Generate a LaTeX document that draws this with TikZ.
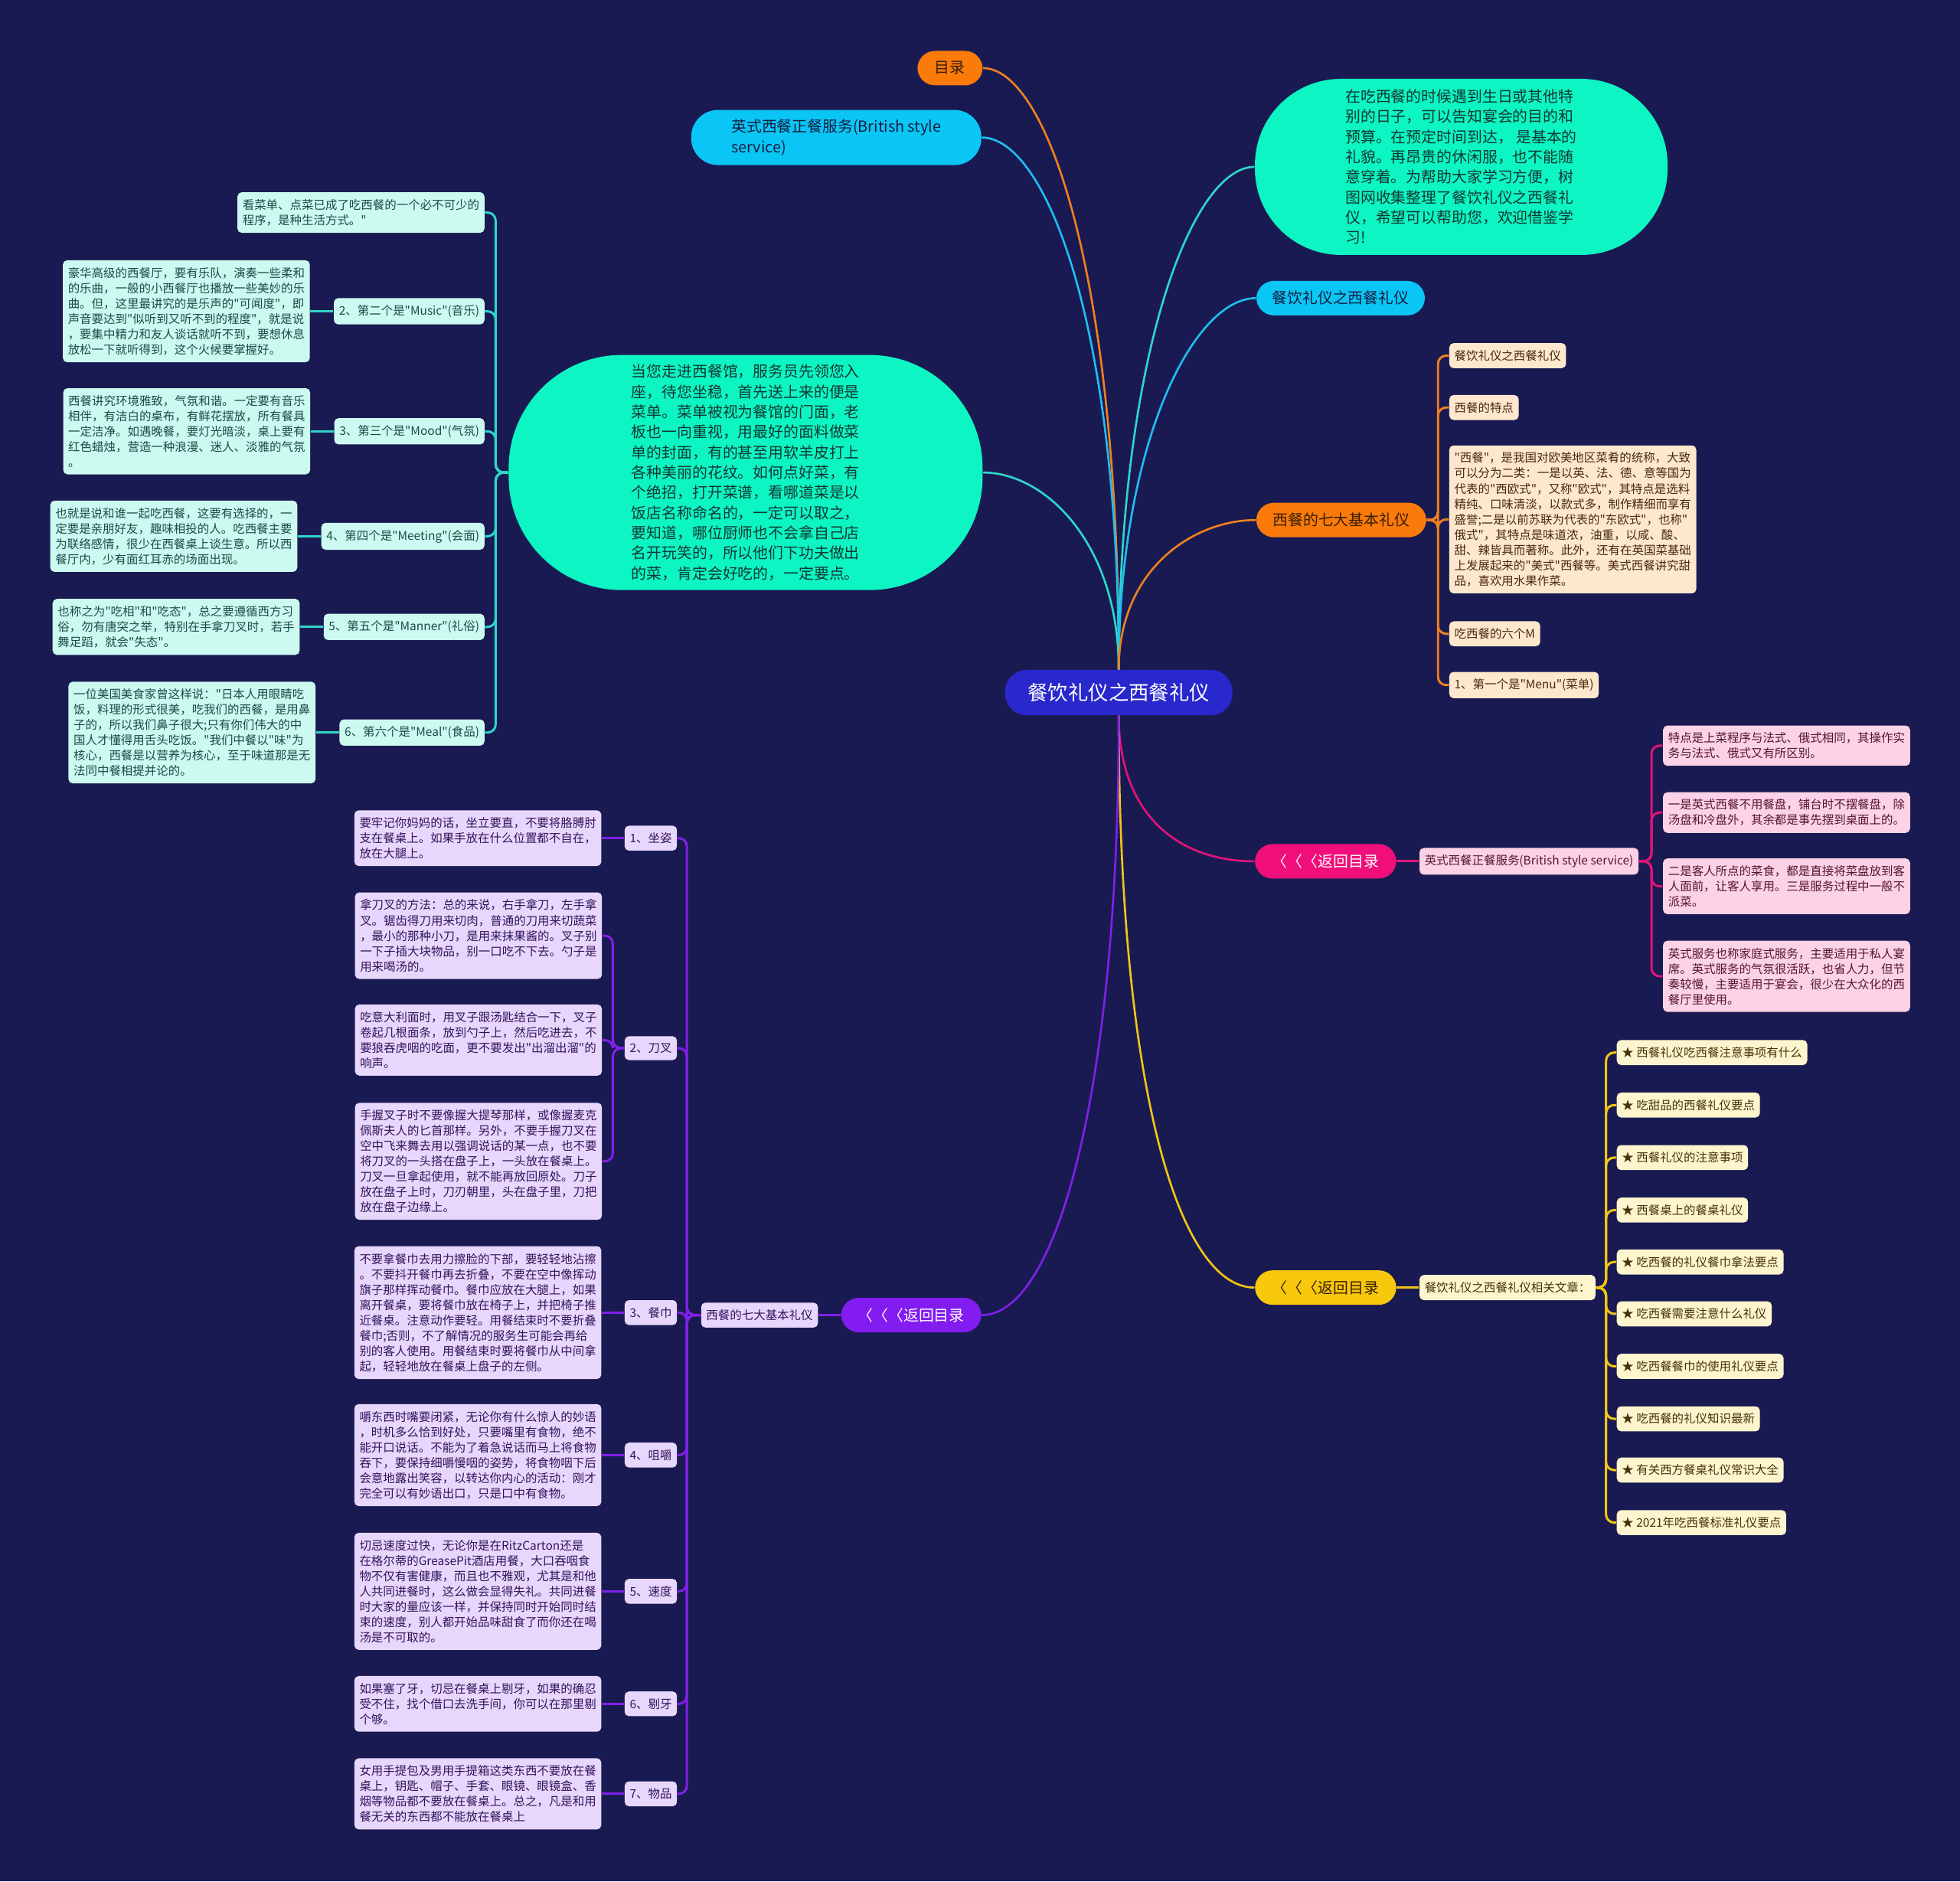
\documentclass[tikz,border=0pt]{standalone}
\usepackage{fontspec}
\setmainfont{Noto Sans CJK SC}
\newfontfamily\cjkfont{Noto Sans CJK SC}
\usetikzlibrary{positioning}
\definecolor{bgnavy}{RGB}{26,26,82}
\definecolor{rootblue}{RGB}{40,40,205}
\definecolor{brorange}{RGB}{250,122,10}
\definecolor{brsky}{RGB}{10,198,245}
\definecolor{brmint}{RGB}{12,245,195}
\definecolor{brpink}{RGB}{240,15,122}
\definecolor{bryellow}{RGB}{248,200,12}
\definecolor{brpurple}{RGB}{130,28,240}
\definecolor{lnorange}{RGB}{240,128,30}
\definecolor{lnsky}{RGB}{30,190,240}
\definecolor{lnteal}{RGB}{45,215,200}
\definecolor{lnpink}{RGB}{225,20,122}
\definecolor{lnyellow}{RGB}{240,198,20}
\definecolor{lnpurple}{RGB}{128,32,232}
\definecolor{lfcyan}{RGB}{205,250,240}
\definecolor{lfpeach}{RGB}{253,232,206}
\definecolor{lfpink}{RGB}{252,210,230}
\definecolor{lfcream}{RGB}{253,245,205}
\definecolor{lflav}{RGB}{232,215,253}
\definecolor{txcyan}{RGB}{25,75,75}
\definecolor{txpeach}{RGB}{75,40,10}
\definecolor{txpink}{RGB}{85,20,50}
\definecolor{txcream}{RGB}{70,50,10}
\definecolor{txlav}{RGB}{50,20,90}
\definecolor{txmint}{RGB}{20,55,50}
\definecolor{txdark}{RGB}{55,30,5}
\definecolor{txnavy}{RGB}{20,30,65}

\begin{document}
\begin{tikzpicture}[
    x=0.016327cm, y=-0.016327cm,
    small/.style={font=\cjkfont\fontsize{4.4pt}{5.7pt}\selectfont},
    mid/.style={font=\cjkfont\fontsize{5.65pt}{7.5pt}\selectfont},
    pill/.style={mid, rectangle, rounded corners=6.5pt, minimum height=0.45cm, inner sep=0pt},
    bubble/.style={mid, rectangle, fill=brmint, text=txmint, align=left, inner sep=0pt},
    leaf/.style={small, rectangle, rounded corners=1.6pt, inner xsep=1.9pt, inner ysep=2.6pt, align=left},
    cyleaf/.style={leaf, fill=lfcyan, text=txcyan},
    orleaf/.style={leaf, fill=lfpeach, text=txpeach},
    pkleaf/.style={leaf, fill=lfpink, text=txpink},
    ylleaf/.style={leaf, fill=lfcream, text=txcream},
    puleaf/.style={leaf, fill=lflav, text=txlav},
    link/.style={line width=0.75pt},
    twig/.style={line width=0.85pt, rounded corners=3pt}
    ]
    \fill[bgnavy] (0,0) rectangle (1568,1505);

    \node[rectangle, rounded corners=8pt, fill=rootblue, text=white, font=\cjkfont\fontsize{7.5pt}{9pt}\selectfont, minimum width=2.97cm, minimum height=0.59cm] (root) at (895,554) {餐饮礼仪之西餐礼仪};

    \node[pill, fill=brorange, text=txdark, minimum width=0.85cm] (mulu) at (760,54.5) {目录};
    \node[pill, fill=brsky, text=txnavy, minimum width=3.79cm, minimum height=0.72cm, rounded corners=10pt, align=left] (brit) at (669,110) {英式西餐正餐服务(British style\\service)};
    \node[bubble, minimum width=5.39cm, minimum height=2.30cm, rounded corners=32pt] (intro) at (1169,133.5) {在吃西餐的时候遇到生日或其他特\\别的日子，可以告知宴会的目的和\\预算。在预定时间到达，\ 是基本的\\礼貌。再昂贵的休闲服，也不能随\\意穿着。为帮助大家学习方便，树\\图网收集整理了餐饮礼仪之西餐礼\\仪，希望可以帮助您，欢迎借鉴学\\习!};
    \node[pill, fill=brsky, text=txnavy, minimum width=2.2cm] (canyin) at (1072.5,238.5) {餐饮礼仪之西餐礼仪};
    \node[bubble, minimum width=6.19cm, minimum height=3.07cm, rounded corners=42pt] (menu) at (596.5,378) {当您走进西餐馆，服务员先领您入\\座，待您坐稳，首先送上来的便是\\菜单。菜单被视为餐馆的门面，老\\板也一向重视，用最好的面料做菜\\单的封面，有的甚至用软羊皮打上\\各种美丽的花纹。如何点好菜，有\\个绝招，打开菜谱，看哪道菜是以\\饭店名称命名的，一定可以取之，\\要知道，哪位厨师也不会拿自己店\\名开玩笑的，所以他们下功夫做出\\的菜，肯定会好吃的，一定要点。};
    \node[pill, fill=brorange, text=txdark, minimum width=2.22cm] (qida) at (1073,416) {西餐的七大基本礼仪};
    \node[pill, fill=brpink, text=white, minimum width=1.845cm] (pkback) at (1060.5,689) {〈〈〈返回目录};
    \node[pill, fill=bryellow, text=txdark, minimum width=1.845cm] (ylback) at (1060.5,1030) {〈〈〈返回目录};
    \node[pill, fill=brpurple, text=white, minimum width=1.83cm] (puback) at (729,1052) {〈〈〈返回目录};

    \draw[link, lnorange] (mulu.east) .. controls +(50,0) and +(0,-320) .. (root.north);
    \draw[link, lnsky] (brit.east) .. controls +(50,0) and +(0,-280) .. (root.north);
    \draw[link, lnteal] (root.north) .. controls +(0,-250) and +(-50,0) .. (intro.west);
    \draw[link, lnsky] (root.north) .. controls +(0,-180) and +(-50,0) .. (canyin.west);
    \draw[link, lnteal] (menu.east) .. controls +(50,0) and +(0,-100) .. (root.north);
    \draw[link, lnorange] (root.north) .. controls +(0,-80) and +(-50,0) .. (qida.west);
    \draw[link, lnpink] (root.south) .. controls +(0,80) and +(-60,0) .. (pkback.west);
    \draw[link, lnyellow] (root.south) .. controls +(0,300) and +(-60,0) .. (ylback.west);
    \draw[link, lnpurple] (root.south) .. controls +(0,300) and +(60,0) .. (puback.east);

    \node[orleaf, anchor=west] (o1) at (1159,284.5) {餐饮礼仪之西餐礼仪};
    \node[orleaf, anchor=west] (o2) at (1159,326) {西餐的特点};
    \node[orleaf, anchor=west] (o3) at (1159,415.5) {"西餐"，是我国对欧美地区菜肴的统称，大致\\可以分为二类：一是以英、法、德、意等国为\\代表的"西欧式"，又称"欧式"，其特点是选料\\精纯、口味清淡，以款式多，制作精细而享有\\盛誉;二是以前苏联为代表的"东欧式"，也称"\\俄式"，其特点是味道浓，油重，以咸、酸、\\甜、辣皆具而著称。此外，还有在英国菜基础\\上发展起来的"美式"西餐等。美式西餐讲究甜\\品，喜欢用水果作菜。};
    \node[orleaf, anchor=west] (o4) at (1159,507) {吃西餐的六个M};
    \node[orleaf, anchor=west] (o5) at (1159,548) {1、第一个是"Menu"(菜单)};
    \draw[twig, lnorange] (qida.east) -- ++(9,0) |- (o1.west);
    \draw[twig, lnorange] (qida.east) -- ++(9,0) |- (o2.west);
    \draw[twig, lnorange] (qida.east) -- ++(9,0) |- (o3.west);
    \draw[twig, lnorange] (qida.east) -- ++(9,0) |- (o4.west);
    \draw[twig, lnorange] (qida.east) -- ++(9,0) |- (o5.west);

    \node[cyleaf, anchor=east] (c0) at (388,170) {看菜单、点菜已成了吃西餐的一个必不可少的\\程序，是种生活方式。"};
    \node[cyleaf, anchor=east] (c2) at (388,249) {2、第二个是"Music"(音乐)};
    \node[cyleaf, left=0.3cm of c2] (c2txt) {豪华高级的西餐厅，要有乐队，演奏一些柔和\\的乐曲，一般的小西餐厅也播放一些美妙的乐\\曲。但，这里最讲究的是乐声的"可闻度"，即\\声音要达到"似听到又听不到的程度"，就是说\\，要集中精力和友人谈话就听不到，要想休息\\放松一下就听得到，这个火候要掌握好。};
    \node[cyleaf, anchor=east] (c3) at (388,345) {3、第三个是"Mood"(气氛)};
    \node[cyleaf, left=0.3cm of c3] (c3txt) {西餐讲究环境雅致，气氛和谐。一定要有音乐\\相伴，有洁白的桌布，有鲜花摆放，所有餐具\\一定洁净。如遇晚餐，要灯光暗淡，桌上要有\\红色蜡烛，营造一种浪漫、迷人、淡雅的气氛\\。};
    \node[cyleaf, anchor=east] (c4) at (388,429) {4、第四个是"Meeting"(会面)};
    \node[cyleaf, left=0.3cm of c4] (c4txt) {也就是说和谁一起吃西餐，这要有选择的，一\\定要是亲朋好友，趣味相投的人。吃西餐主要\\为联络感情，很少在西餐桌上谈生意。所以西\\餐厅内，少有面红耳赤的场面出现。};
    \node[cyleaf, anchor=east] (c5) at (388,501.5) {5、第五个是"Manner"(礼俗)};
    \node[cyleaf, left=0.3cm of c5] (c5txt) {也称之为"吃相"和"吃态"，总之要遵循西方习\\俗，勿有唐突之举，特别在手拿刀叉时，若手\\舞足蹈，就会"失态"。};
    \node[cyleaf, anchor=east] (c6) at (388,586) {6、第六个是"Meal"(食品)};
    \node[cyleaf, left=0.3cm of c6] (c6txt) {一位美国美食家曾这样说："日本人用眼睛吃\\饭，料理的形式很美，吃我们的西餐，是用鼻\\子的，所以我们鼻子很大;只有你们伟大的中\\国人才懂得用舌头吃饭。"我们中餐以"味"为\\核心，西餐是以营养为核心，至于味道那是无\\法同中餐相提并论的。};
    \draw[twig, lnteal] (menu.west) -- ++(-10,0) |- (c0.east);
    \draw[twig, lnteal] (menu.west) -- ++(-10,0) |- (c2.east);
    \draw[twig, lnteal] (menu.west) -- ++(-10,0) |- (c3.east);
    \draw[twig, lnteal] (menu.west) -- ++(-10,0) |- (c4.east);
    \draw[twig, lnteal] (menu.west) -- ++(-10,0) |- (c5.east);
    \draw[twig, lnteal] (menu.west) -- ++(-10,0) |- (c6.east);
    \draw[twig, lnteal] (c2.west) -- (c2txt.east);
    \draw[twig, lnteal] (c3.west) -- (c3txt.east);
    \draw[twig, lnteal] (c4.west) -- (c4txt.east);
    \draw[twig, lnteal] (c5.west) -- (c5txt.east);
    \draw[twig, lnteal] (c6.west) -- (c6txt.east);

    \node[pkleaf, right=0.29cm of pkback] (pkhead) {英式西餐正餐服务(British style service)};
    \node[pkleaf, anchor=west] (k1) at (1330,596.5) {特点是上菜程序与法式、俄式相同，其操作实\\务与法式、俄式又有所区别。};
    \node[pkleaf, anchor=west] (k2) at (1330,650) {一是英式西餐不用餐盘，铺台时不摆餐盘，除\\汤盘和冷盘外，其余都是事先摆到桌面上的。};
    \node[pkleaf, anchor=west] (k3) at (1330,709) {二是客人所点的菜食，都是直接将菜盘放到客\\人面前，让客人享用。三是服务过程中一般不\\派菜。};
    \node[pkleaf, anchor=west] (k4) at (1330,781) {英式服务也称家庭式服务，主要适用于私人宴\\席。英式服务的气氛很活跃，也省人力，但节\\奏较慢，主要适用于宴会，很少在大众化的西\\餐厅里使用。};
    \draw[twig, lnpink] (pkback.east) -- (pkhead.west);
    \draw[twig, lnpink] (pkhead.east) -- ++(10,0) |- (k1.west);
    \draw[twig, lnpink] (pkhead.east) -- ++(10,0) |- (k2.west);
    \draw[twig, lnpink] (pkhead.east) -- ++(10,0) |- (k3.west);
    \draw[twig, lnpink] (pkhead.east) -- ++(10,0) |- (k4.west);

    \node[ylleaf, right=0.29cm of ylback] (ylhead) {餐饮礼仪之西餐礼仪相关文章：};
    \node[ylleaf, anchor=west] (y1) at (1293,842) {★ 西餐礼仪吃西餐注意事项有什么};
    \node[ylleaf, anchor=west] (y2) at (1293,884) {★ 吃甜品的西餐礼仪要点};
    \node[ylleaf, anchor=west] (y3) at (1293,926) {★ 西餐礼仪的注意事项};
    \node[ylleaf, anchor=west] (y4) at (1293,968) {★ 西餐桌上的餐桌礼仪};
    \node[ylleaf, anchor=west] (y5) at (1293,1009.5) {★ 吃西餐的礼仪餐巾拿法要点};
    \node[ylleaf, anchor=west] (y6) at (1293,1051) {★ 吃西餐需要注意什么礼仪};
    \node[ylleaf, anchor=west] (y7) at (1293,1093) {★ 吃西餐餐巾的使用礼仪要点};
    \node[ylleaf, anchor=west] (y8) at (1293,1135) {★ 吃西餐的礼仪知识最新};
    \node[ylleaf, anchor=west] (y9) at (1293,1176) {★ 有关西方餐桌礼仪常识大全};
    \node[ylleaf, anchor=west] (y10) at (1293,1218) {★ 2021年吃西餐标准礼仪要点};
    \draw[twig, lnyellow] (ylback.east) -- (ylhead.west);
    \draw[twig, lnyellow] (ylhead.east) -- ++(8,0) |- (y1.west);
    \draw[twig, lnyellow] (ylhead.east) -- ++(8,0) |- (y2.west);
    \draw[twig, lnyellow] (ylhead.east) -- ++(8,0) |- (y3.west);
    \draw[twig, lnyellow] (ylhead.east) -- ++(8,0) |- (y4.west);
    \draw[twig, lnyellow] (ylhead.east) -- ++(8,0) |- (y5.west);
    \draw[twig, lnyellow] (ylhead.east) -- ++(8,0) |- (y6.west);
    \draw[twig, lnyellow] (ylhead.east) -- ++(8,0) |- (y7.west);
    \draw[twig, lnyellow] (ylhead.east) -- ++(8,0) |- (y8.west);
    \draw[twig, lnyellow] (ylhead.east) -- ++(8,0) |- (y9.west);
    \draw[twig, lnyellow] (ylhead.east) -- ++(8,0) |- (y10.west);

    \node[puleaf, left=0.29cm of puback] (puhead) {西餐的七大基本礼仪};
    \node[puleaf, anchor=east] (p1) at (542,670.5) {1、坐姿};
    \node[puleaf, left=0.29cm of p1] (p1txt) {要牢记你妈妈的话，坐立要直，不要将胳膊肘\\支在餐桌上。如果手放在什么位置都不自在，\\放在大腿上。};
    \node[puleaf, anchor=east] (p2) at (542,838.5) {2、刀叉};
    \node[puleaf, anchor=east] (p2a) at (482,748.5) {拿刀叉的方法：总的来说，右手拿刀，左手拿\\叉。锯齿得刀用来切肉，普通的刀用来切蔬菜\\，最小的那种小刀，是用来抹果酱的。叉子别\\一下子插大块物品，别一口吃不下去。勺子是\\用来喝汤的。};
    \node[puleaf, anchor=east] (p2b) at (482,832) {吃意大利面时，用叉子跟汤匙结合一下，叉子\\卷起几根面条，放到勺子上，然后吃进去，不\\要狼吞虎咽的吃面，更不要发出"出溜出溜"的\\响声。};
    \node[puleaf, anchor=east] (p2c) at (482,929) {手握叉子时不要像握大提琴那样，或像握麦克\\佩斯夫人的匕首那样。另外，不要手握刀叉在\\空中飞来舞去用以强调说话的某一点，也不要\\将刀叉的一头搭在盘子上，一头放在餐桌上。\\刀叉一旦拿起使用，就不能再放回原处。刀子\\放在盘子上时，刀刃朝里，头在盘子里，刀把\\放在盘子边缘上。};
    \node[puleaf, anchor=east] (p3) at (542,1050) {3、餐巾};
    \node[puleaf, left=0.29cm of p3] (p3txt) {不要拿餐巾去用力擦脸的下部，要轻轻地沾擦\\。不要抖开餐巾再去折叠，不要在空中像挥动\\旗子那样挥动餐巾。餐巾应放在大腿上，如果\\离开餐桌，要将餐巾放在椅子上，并把椅子推\\近餐桌。注意动作要轻。用餐结束时不要折叠\\餐巾;否则，不了解情况的服务生可能会再给\\别的客人使用。用餐结束时要将餐巾从中间拿\\起，轻轻地放在餐桌上盘子的左侧。};
    \node[puleaf, anchor=east] (p4) at (542,1164) {4、咀嚼};
    \node[puleaf, left=0.29cm of p4] (p4txt) {嚼东西时嘴要闭紧，无论你有什么惊人的妙语\\，时机多么恰到好处，只要嘴里有食物，绝不\\能开口说话。不能为了着急说话而马上将食物\\吞下，要保持细嚼慢咽的姿势，将食物咽下后\\会意地露出笑容，以转达你内心的活动：刚才\\完全可以有妙语出口，只是口中有食物。};
    \node[puleaf, anchor=east] (p5) at (542,1273) {5、速度};
    \node[puleaf, left=0.29cm of p5] (p5txt) {切忌速度过快，无论你是在RitzCarton还是\\在格尔蒂的GreasePit酒店用餐，大口吞咽食\\物不仅有害健康，而且也不雅观，尤其是和他\\人共同进餐时，这么做会显得失礼。共同进餐\\时大家的量应该一样，并保持同时开始同时结\\束的速度，别人都开始品味甜食了而你还在喝\\汤是不可取的。};
    \node[puleaf, anchor=east] (p6) at (542,1363) {6、剔牙};
    \node[puleaf, left=0.29cm of p6] (p6txt) {如果塞了牙，切忌在餐桌上剔牙，如果的确忍\\受不住，找个借口去洗手间，你可以在那里剔\\个够。};
    \node[puleaf, anchor=east] (p7) at (542,1435) {7、物品};
    \node[puleaf, left=0.29cm of p7] (p7txt) {女用手提包及男用手提箱这类东西不要放在餐\\桌上，钥匙、帽子、手套、眼镜、眼镜盒、香\\烟等物品都不要放在餐桌上。总之，凡是和用\\餐无关的东西都不能放在餐桌上};
    \draw[twig, lnpurple] (puback.west) -- (puhead.east);
    \draw[twig, lnpurple] (puhead.west) -- ++(-11,0) |- (p1.east);
    \draw[twig, lnpurple] (puhead.west) -- ++(-11,0) |- (p2.east);
    \draw[twig, lnpurple] (puhead.west) -- ++(-11,0) |- (p3.east);
    \draw[twig, lnpurple] (puhead.west) -- ++(-11,0) |- (p4.east);
    \draw[twig, lnpurple] (puhead.west) -- ++(-11,0) |- (p5.east);
    \draw[twig, lnpurple] (puhead.west) -- ++(-11,0) |- (p6.east);
    \draw[twig, lnpurple] (puhead.west) -- ++(-11,0) |- (p7.east);
    \draw[twig, lnpurple] (p1.west) -- (p1txt.east);
    \draw[twig, lnpurple] (p2.west) -- ++(-9,0) |- (p2a.east);
    \draw[twig, lnpurple] (p2.west) -- ++(-9,0) |- (p2b.east);
    \draw[twig, lnpurple] (p2.west) -- ++(-9,0) |- (p2c.east);
    \draw[twig, lnpurple] (p3.west) -- (p3txt.east);
    \draw[twig, lnpurple] (p4.west) -- (p4txt.east);
    \draw[twig, lnpurple] (p5.west) -- (p5txt.east);
    \draw[twig, lnpurple] (p6.west) -- (p6txt.east);
    \draw[twig, lnpurple] (p7.west) -- (p7txt.east);
\end{tikzpicture}
\end{document}
